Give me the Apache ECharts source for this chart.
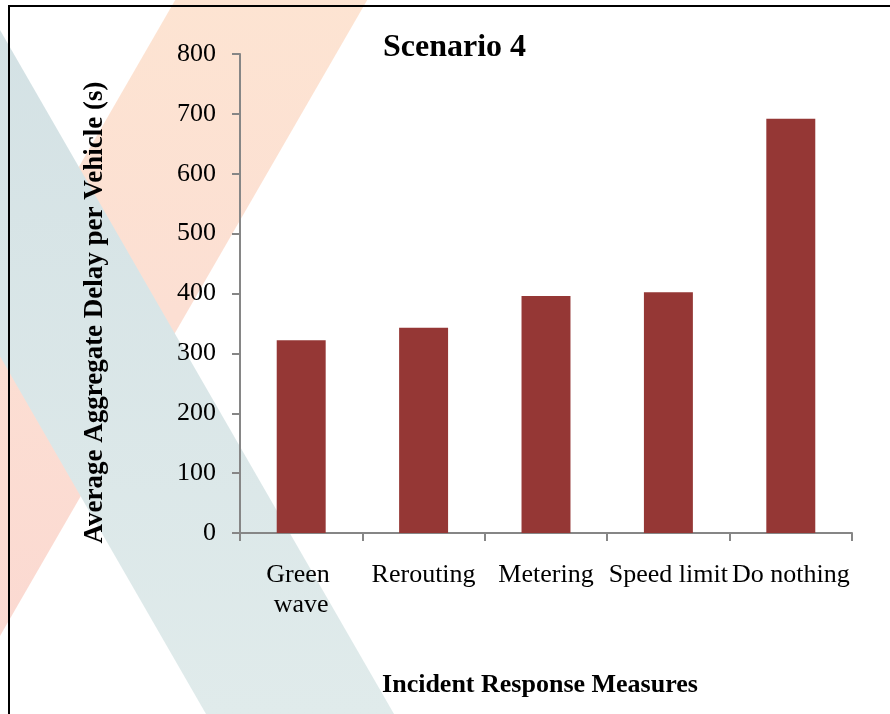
<!DOCTYPE html>
<html>
<head>
<meta charset="utf-8">
<title>Scenario 4</title>
<script src="https://cdn.jsdelivr.net/npm/echarts@6/dist/echarts.min.js"></script>
<style>
  html, body { margin: 0; padding: 0; background: #ffffff; }
  #chart { width: 890px; height: 714px; }
</style>
</head>
<body>
<div id="chart"></div>
<script>
// Incident response measures and their average aggregate delay per vehicle (s)
const categories = ['Green wave', 'Rerouting', 'Metering', 'Speed limit', 'Do nothing'];
const delayValues = [322, 343, 396, 402, 692];
const yTicks = { min: 0, max: 800, step: 100 };

const serif = '"Liberation Serif", "Times New Roman", serif';
const axisGray = '#868686';
const barColor = '#953735';

const chart = echarts.init(document.getElementById('chart'), null, { renderer: 'canvas' });

// Decorative diagonal ribbons behind the plot, plus the slide frame
const decorations = [
  {
    type: 'polygon', z: -20, silent: true,
    shape: { points: [[181, -10], [373, -10], [-45, 714], [-237, 714]] },
    style: {
      fill: new echarts.graphic.LinearGradient(0, 0, 0, 1, [
        { offset: 0, color: '#fde4d2' },
        { offset: 0.45, color: '#fcdfd3' },
        { offset: 1, color: '#fbd8d1' }
      ])
    }
  },
  {
    type: 'polygon', z: -10, silent: true,
    shape: { points: [[-211, -10], [-23, -10], [394, 714], [206, 714]] },
    style: {
      fill: new echarts.graphic.LinearGradient(0, 0, 0, 1, [
        { offset: 0, color: '#d3e1e4' },
        { offset: 1, color: '#e0ebeb' }
      ])
    }
  },
  {
    type: 'polyline', z: 100, silent: true,
    shape: { points: [[9, 714], [9, 6], [890, 6]] },
    style: { stroke: '#000000', lineWidth: 2, fill: null }
  }
];

const option = {
  backgroundColor: '#ffffff',
  animation: false,
  title: {
    text: 'Scenario 4',
    left: 383,
    top: 32,
    padding: 0,
    textStyle: { fontFamily: serif, fontWeight: 'bold', fontSize: 32, color: '#000000' }
  },
  graphic: decorations,
  grid: { left: 240, right: 38, top: 54, bottom: 181, containLabel: false },
  xAxis: {
    type: 'category',
    data: categories,
    name: 'Incident Response Measures',
    nameLocation: 'middle',
    nameGap: 139,
    nameTextStyle: { fontFamily: serif, fontWeight: 'bold', fontSize: 26, color: '#000000', padding: [0, 12, 0, 0] },
    axisLine: { show: true, lineStyle: { color: axisGray, width: 2 } },
    axisTick: { show: true, inside: false, length: 8, lineStyle: { color: axisGray, width: 2 } },
    axisLabel: {
      interval: 0,
      margin: 27,
      fontFamily: serif,
      fontSize: 26,
      lineHeight: 30,
      color: '#000000',
      width: 122,
      overflow: 'break'
    },
    splitLine: { show: false }
  },
  yAxis: {
    type: 'value',
    min: yTicks.min,
    max: yTicks.max,
    interval: yTicks.step,
    name: 'Average Aggregate Delay per Vehicle (s)',
    nameLocation: 'middle',
    nameGap: 131,
    nameTextStyle: { fontFamily: serif, fontWeight: 'bold', fontSize: 27, color: '#000000', padding: [0, 38, 0, 0] },
    axisLine: { show: true, lineStyle: { color: axisGray, width: 2 } },
    axisTick: { show: true, inside: false, length: 8, lineStyle: { color: axisGray, width: 2 } },
    axisLabel: { margin: 24, fontFamily: serif, fontSize: 26, color: '#000000' },
    splitLine: { show: false }
  },
  series: [
    {
      type: 'bar',
      data: delayValues,
      barWidth: '40%',
      itemStyle: { color: barColor }
    }
  ]
};

chart.setOption(option);
</script>
</body>
</html>
